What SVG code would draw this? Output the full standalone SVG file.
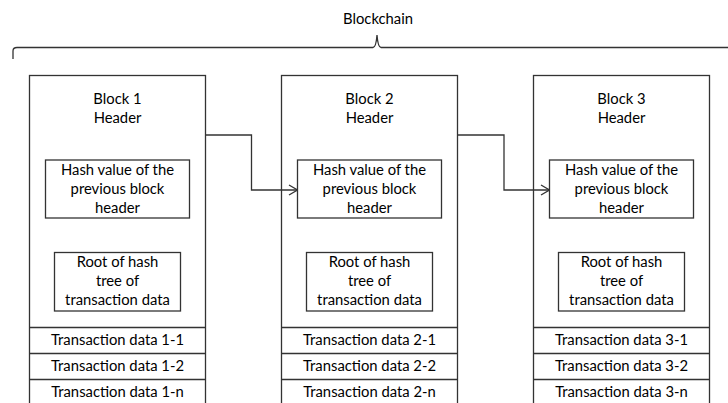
<svg xmlns="http://www.w3.org/2000/svg" width="728" height="403" viewBox="0 0 728 403">
  <style>
    .box { fill: #ffffff; stroke: #333333; stroke-width: 1.3; }
    .line { fill: none; stroke: #333333; stroke-width: 1.3; }
    .conn { fill: none; stroke: #333333; stroke-width: 1.3; marker-end: url(#openArrow); }
    text { font-family: Lato, "Liberation Sans", sans-serif; font-size: 14.8px; fill: #000000; text-anchor: middle; }
  </style>
  <defs>
    <marker id="openArrow" viewBox="0 0 10 12" refX="9.5" refY="6" markerWidth="10" markerHeight="12" markerUnits="userSpaceOnUse" orient="auto">
      <path d="M1,1 L9.5,6 L1,11" fill="none" stroke="#333333" stroke-width="1.3"/>
    </marker>
  </defs>

  <rect width="728" height="403" fill="#ffffff"/>

  <!-- Brace spanning the whole chain -->
  <g id="chain-brace">
    <path class="line" d="M13,59 L13,51 Q13,47.5 17,47.5 L373,47.5 Q376,47.5 377,35 Q378,47.5 381,47.5 L730,47.5"/>
    <text x="378" y="24">Blockchain</text>
  </g>

  <!-- Block 1 -->
  <g id="block1">
    <rect class="box" x="29.5" y="75.5" width="176" height="340"/>
    <text x="117.5" y="104">Block 1</text>
    <text x="117.5" y="123">Header</text>
    <g id="block1-prevhash">
      <rect class="box" x="45.5" y="160" width="144" height="58"/>
      <text x="117.5" y="175">Hash value of the</text>
      <text x="117.5" y="194">previous block</text>
      <text x="117.5" y="213">header</text>
    </g>
    <g id="block1-root">
      <rect class="box" x="54.5" y="252.5" width="126" height="58.5"/>
      <text x="117.5" y="267">Root of hash</text>
      <text x="117.5" y="286">tree of</text>
      <text x="117.5" y="305">transaction data</text>
    </g>
    <line class="line" x1="29.5" y1="327.5" x2="205.5" y2="327.5"/>
    <line class="line" x1="29.5" y1="353.5" x2="205.5" y2="353.5"/>
    <line class="line" x1="29.5" y1="379.5" x2="205.5" y2="379.5"/>
    <text x="117.5" y="345">Transaction data 1-1</text>
    <text x="117.5" y="371">Transaction data 1-2</text>
    <text x="117.5" y="397">Transaction data 1-n</text>
  </g>

  <!-- Block 2 -->
  <g id="block2">
    <rect class="box" x="281.5" y="75.5" width="176" height="340"/>
    <text x="369.5" y="104">Block 2</text>
    <text x="369.5" y="123">Header</text>
    <g id="block2-prevhash">
      <rect class="box" x="297.5" y="160" width="144" height="58"/>
      <text x="369.5" y="175">Hash value of the</text>
      <text x="369.5" y="194">previous block</text>
      <text x="369.5" y="213">header</text>
    </g>
    <g id="block2-root">
      <rect class="box" x="306.5" y="252.5" width="126" height="58.5"/>
      <text x="369.5" y="267">Root of hash</text>
      <text x="369.5" y="286">tree of</text>
      <text x="369.5" y="305">transaction data</text>
    </g>
    <line class="line" x1="281.5" y1="327.5" x2="457.5" y2="327.5"/>
    <line class="line" x1="281.5" y1="353.5" x2="457.5" y2="353.5"/>
    <line class="line" x1="281.5" y1="379.5" x2="457.5" y2="379.5"/>
    <text x="369.5" y="345">Transaction data 2-1</text>
    <text x="369.5" y="371">Transaction data 2-2</text>
    <text x="369.5" y="397">Transaction data 2-n</text>
  </g>

  <!-- Block 3 -->
  <g id="block3">
    <rect class="box" x="533.5" y="75.5" width="176" height="340"/>
    <text x="621.5" y="104">Block 3</text>
    <text x="621.5" y="123">Header</text>
    <g id="block3-prevhash">
      <rect class="box" x="549.5" y="160" width="144" height="58"/>
      <text x="621.5" y="175">Hash value of the</text>
      <text x="621.5" y="194">previous block</text>
      <text x="621.5" y="213">header</text>
    </g>
    <g id="block3-root">
      <rect class="box" x="558.5" y="252.5" width="126" height="58.5"/>
      <text x="621.5" y="267">Root of hash</text>
      <text x="621.5" y="286">tree of</text>
      <text x="621.5" y="305">transaction data</text>
    </g>
    <line class="line" x1="533.5" y1="327.5" x2="709.5" y2="327.5"/>
    <line class="line" x1="533.5" y1="353.5" x2="709.5" y2="353.5"/>
    <line class="line" x1="533.5" y1="379.5" x2="709.5" y2="379.5"/>
    <text x="621.5" y="345">Transaction data 3-1</text>
    <text x="621.5" y="371">Transaction data 3-2</text>
    <text x="621.5" y="397">Transaction data 3-n</text>
  </g>

  <!-- Header-to-previous-hash links -->
  <g id="connectors">
    <path class="conn" d="M205.5,135 L251.5,135 L251.5,190 L297.5,190"/>
    <path class="conn" d="M457.5,135 L504,135 L504,190 L549.5,190"/>
  </g>
</svg>
